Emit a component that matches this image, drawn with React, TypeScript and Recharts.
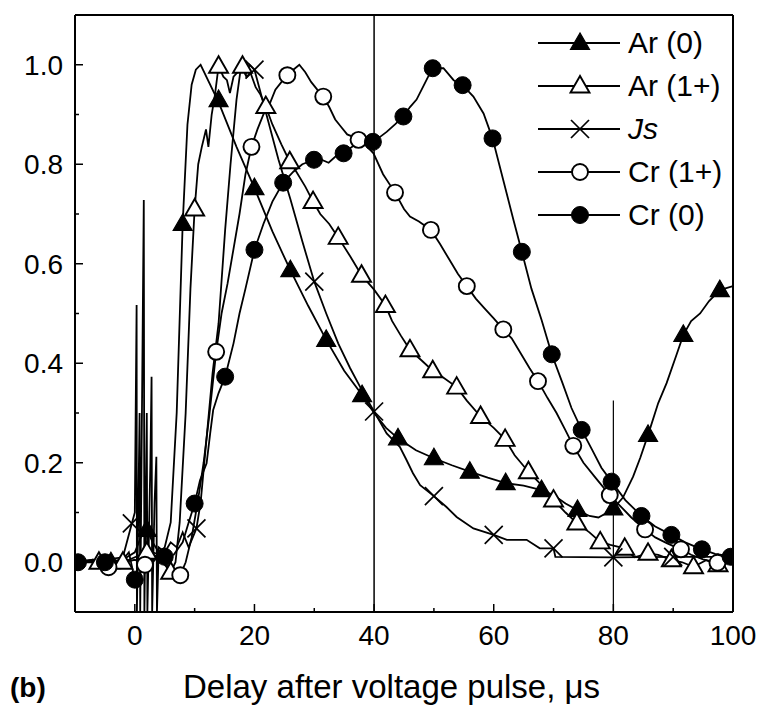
import React from 'react';
import { ComposedChart, Line, Scatter, XAxis, YAxis, ReferenceLine } from 'recharts';

type P = [number, number];

// ---- axis ticks ----
const xTicks = [0, 10, 20, 30, 40, 50, 60, 70, 80, 90, 100];
const xLabelTicks = [0, 20, 40, 60, 80, 100];
const yTicks = [0, 0.1, 0.2, 0.3, 0.4, 0.5, 0.6, 0.7, 0.8, 0.9, 1.0];
const yLabelTicks = [0, 0.2, 0.4, 0.6, 0.8, 1.0];

// ---- series names ----
const seriesNames = ['Ar (0)', 'Ar (1+)', 'Js', 'Cr (1+)', 'Cr (0)'];

// ---- Ar (0) ----
const arZeroTrace: P[] = [
  [-10, 0.0], [-7, 0.005], [-4, 0.0], [-2, 0.005], [0, 0.02], [1, 0.05], [2, 0.065], [3, 0.04], [4, 0.02],
  [5, 0.03], [6, 0.08], [7, 0.3], [8, 0.68], [8.8, 0.88], [9.5, 0.96], [10.2, 0.99], [11, 1.0], [14, 0.925],
  [17, 0.835], [20, 0.752], [23, 0.665], [26, 0.587], [29, 0.515], [32, 0.447], [35, 0.385], [38, 0.336],
  [40, 0.3], [42, 0.27], [44, 0.249], [47, 0.225], [50, 0.209], [53, 0.195], [56, 0.182], [59, 0.17],
  [62, 0.159], [65, 0.154], [68, 0.145], [70, 0.135], [72, 0.118], [74, 0.105], [76, 0.093], [77.5, 0.09],
  [79, 0.1], [80, 0.108], [81.6, 0.13], [83.3, 0.172], [84.5, 0.21], [85.8, 0.256], [87.5, 0.32],
  [88.9, 0.36], [90.5, 0.415], [91.7, 0.457], [93, 0.485], [94.5, 0.5], [96, 0.525], [97.8, 0.547], [100, 0.555],
];
const arZeroMarks: P[] = [
  [-4, 0.0], [2, 0.065], [8, 0.68], [14, 0.929], [20, 0.752], [26, 0.587], [32, 0.447], [38, 0.336],
  [44, 0.249], [50, 0.209], [56, 0.182], [62, 0.159], [68, 0.145], [74, 0.105], [80, 0.108], [85.8, 0.256],
  [91.7, 0.457], [97.8, 0.547],
];

// ---- Ar (1+) ----
const arOneTrace: P[] = [
  [-10, 0.005], [-6, 0.0], [-4, 0.005], [-2, 0.0], [0, 0.01], [2, 0.02], [4, 0.01], [6, -0.02], [6.8, 0.0],
  [7.5, 0.08], [8.5, 0.3], [9.3, 0.55], [10, 0.71], [10.6, 0.8], [11.2, 0.835], [11.9, 0.87], [12.3, 0.835],
  [12.85, 0.9], [13.4, 0.94], [14, 0.997], [14.8, 0.976], [15.4, 0.969], [15.9, 0.943], [16.5, 0.976],
  [17.2, 0.985], [18, 0.997], [18.7, 0.975], [19.3, 0.985], [20.2, 0.955], [21, 0.94], [21.9, 0.916],
  [23, 0.88], [24.5, 0.84], [25.9, 0.805], [27, 0.785], [28.5, 0.755], [29.8, 0.725], [31, 0.7], [32.5, 0.68],
  [34, 0.653], [36, 0.615], [37.9, 0.577], [40, 0.548], [41.9, 0.516], [43, 0.485], [44.5, 0.455], [46, 0.427],
  [48, 0.405], [49.8, 0.385], [51.5, 0.372], [53.8, 0.352], [55.5, 0.325], [57.8, 0.293], [60, 0.27],
  [61.9, 0.247], [63.5, 0.215], [65.8, 0.182], [68, 0.155], [70, 0.125], [72, 0.1], [73.9, 0.079], [76, 0.06],
  [77.8, 0.041], [79.5, 0.035], [81.9, 0.028], [83.5, 0.01], [85.8, 0.018], [87.5, 0.015], [89.7, 0.005],
  [91.5, 0.0], [93.4, -0.009], [95.5, 0.004], [97.5, -0.005], [100, 0.0],
];
const arOneMarks: P[] = [
  [-6, 0.0], [-2, 0.0], [2, 0.02], [6, -0.02], [10, 0.71], [14, 0.997], [18, 0.997], [21.9, 0.916],
  [25.9, 0.805], [29.8, 0.725], [34, 0.653], [37.9, 0.577], [41.9, 0.516], [46, 0.427], [49.8, 0.385],
  [53.8, 0.352], [57.8, 0.293], [61.9, 0.247], [65.8, 0.182], [70, 0.125], [73.9, 0.079], [77.8, 0.041],
  [81.9, 0.028], [85.8, 0.018], [89.7, 0.005], [93.4, -0.009], [97.5, -0.005],
];

// ---- Js ----
const jsTrace: P[] = [
  [-10, 0.0], [-5, 0.005], [-2, 0.01], [-0.5, 0.078], [0, 0.1], [0.3, 0.517], [0.35, -0.1], [0.8, 0.3],
  [0.9, -0.1], [1.3, 0.45], [1.5, 0.728], [1.6, -0.1], [2.0, 0.3], [2.1, -0.1], [2.6, 0.2], [2.8, 0.373],
  [2.9, -0.1], [3.3, 0.12], [3.6, 0.212], [3.7, -0.1], [4.0, 0.03], [5, 0.02], [6, 0.04], [7, 0.03], [8, 0.06],
  [9, 0.03], [10.3, 0.068], [11, 0.12], [12, 0.25], [13, 0.38], [14, 0.48], [15.1, 0.668], [16, 0.8],
  [17, 0.93], [17.8, 1.0], [18.5, 0.98], [19.2, 1.0], [20, 0.99], [22, 0.9], [24, 0.81], [26, 0.73],
  [28, 0.645], [30, 0.564], [32, 0.5], [34, 0.44], [36, 0.39], [38, 0.345], [40, 0.303], [42.1, 0.259],
  [44.3, 0.232], [45.4, 0.206], [46.5, 0.179], [47.7, 0.155], [50, 0.133], [52.1, 0.111], [53.8, 0.091],
  [56.6, 0.068], [60, 0.055], [62.2, 0.045], [65.5, 0.045], [67.7, 0.028], [70, 0.028], [70.3, 0.011],
  [80, 0.01], [90, 0.011], [100, 0.011],
];
const jsMarks: P[] = [
  [-0.5, 0.078], [10.3, 0.068], [20, 0.99], [30, 0.564], [40, 0.303], [50, 0.133], [60, 0.055],
  [70, 0.028], [80, 0.01], [90, 0.011],
];

// ---- Cr (1+) ----
const crOneTrace: P[] = [
  [-10, 0.0], [-7, 0.0], [-4.4, -0.01], [-2, 0.0], [0, 0.005], [1.7, -0.005], [3, 0.0], [4.5, 0.02],
  [5.5, -0.01], [6.5, -0.02], [7.6, -0.026], [8.5, 0.0], [9.5, 0.05], [10.5, 0.12], [11.5, 0.2], [12.5, 0.3],
  [13.6, 0.423], [14.5, 0.5], [15.5, 0.56], [16.5, 0.63], [17.5, 0.7], [18.5, 0.78], [19.5, 0.835],
  [20.5, 0.87], [21.5, 0.9], [22.5, 0.92], [23.5, 0.95], [24.5, 0.965], [25.5, 0.979], [26.5, 0.99],
  [27.5, 1.0], [28.5, 0.985], [29.5, 0.965], [30.5, 0.95], [31.5, 0.936], [32.5, 0.915], [33.5, 0.89],
  [34.5, 0.875], [35.5, 0.86], [36.5, 0.855], [37.4, 0.849], [38.5, 0.84], [39.9, 0.822], [41.5, 0.78],
  [43.5, 0.743], [45, 0.71], [46, 0.695], [47.5, 0.685], [49.5, 0.668], [51, 0.64], [52.5, 0.61], [54, 0.58],
  [55.5, 0.555], [57, 0.53], [58.5, 0.51], [60, 0.49], [61.6, 0.468], [63, 0.45], [64.5, 0.42], [66, 0.39],
  [67.4, 0.364], [69, 0.33], [70.5, 0.3], [72, 0.265], [73.3, 0.234], [75, 0.2], [77, 0.17], [79.4, 0.135],
  [81, 0.115], [83, 0.09], [85.3, 0.066], [87, 0.05], [89, 0.038], [91.3, 0.026], [93, 0.015], [95, 0.006],
  [97.4, -0.001], [100, 0.0],
];
const crOneMarks: P[] = [
  [-4.4, -0.01], [1.7, -0.005], [7.6, -0.026], [13.6, 0.423], [19.5, 0.835], [25.5, 0.979], [31.5, 0.936],
  [37.4, 0.849], [43.5, 0.743], [49.5, 0.668], [55.5, 0.555], [61.6, 0.468], [67.4, 0.364], [73.3, 0.234],
  [79.4, 0.135], [85.3, 0.066], [91.3, 0.026], [97.4, -0.001],
];

// ---- Cr (0) ----
const crZeroTrace: P[] = [
  [-10, 0.0], [-9.5, 0.0], [-7, 0.005], [-5, 0.0], [-2, 0.005], [-1, 0.02], [0, -0.035], [1, 0.02], [2, 0.03],
  [3, 0.02], [5, 0.011], [6.5, 0.015], [8, 0.04], [9, 0.08], [10, 0.118], [10.9, 0.165], [12, 0.199],
  [12.6, 0.259], [13.1, 0.306], [14, 0.34], [15.1, 0.373], [16.5, 0.44], [17.5, 0.5], [18.5, 0.55],
  [20, 0.628], [21.5, 0.68], [23, 0.725], [24.8, 0.763], [26.5, 0.785], [28, 0.8], [29.95, 0.809], [31, 0.81],
  [32.4, 0.803], [33.5, 0.815], [34.9, 0.822], [36, 0.832], [37.1, 0.842], [38.5, 0.842], [39.8, 0.845],
  [41, 0.855], [42.1, 0.865], [43.5, 0.88], [44.9, 0.896], [46, 0.915], [47.1, 0.93], [48.2, 0.956],
  [49, 0.975], [49.8, 0.993], [51.6, 0.993], [53.3, 0.969], [54.8, 0.959], [56.6, 0.936], [58.3, 0.902],
  [59.8, 0.852], [61.6, 0.768], [63.3, 0.688], [64.7, 0.624], [66.3, 0.55], [68, 0.487], [69.7, 0.418],
  [71.5, 0.36], [73, 0.31], [74.7, 0.266], [76.5, 0.225], [78, 0.19], [79.7, 0.162], [82, 0.125],
  [84.7, 0.093], [87, 0.072], [89.7, 0.055], [92, 0.04], [94.8, 0.026], [97, 0.017], [100, 0.011],
];
const crZeroMarks: P[] = [
  [-9.5, 0.0], [-5, 0.0], [0, -0.035], [5, 0.011], [10, 0.118], [15.1, 0.373], [20, 0.628], [24.8, 0.763],
  [29.95, 0.809], [34.9, 0.822], [39.8, 0.845], [44.9, 0.896], [49.8, 0.993], [54.8, 0.959], [59.8, 0.852],
  [64.7, 0.624], [69.7, 0.418], [74.7, 0.266], [79.7, 0.162], [84.7, 0.093], [89.7, 0.055], [94.8, 0.026],
  [99.6, 0.011],
];

const toObj = (arr: P[]) => arr.map(([x, y]) => ({ x, y }));

const FONT = '"Liberation Sans", Arial, Helvetica, sans-serif';
const INK = '#000';

// ---- marker shapes ----
const TriFilled = ({ cx, cy }: any) => (
  <polygon points={`${cx},${cy - 10} ${cx - 9.5},${cy + 6.5} ${cx + 9.5},${cy + 6.5}`} fill={INK} stroke={INK} strokeWidth={1.2} />
);
const TriOpen = ({ cx, cy }: any) => (
  <polygon points={`${cx},${cy - 10} ${cx - 9.5},${cy + 6.5} ${cx + 9.5},${cy + 6.5}`} fill="#fff" stroke={INK} strokeWidth={1.9} />
);
const Cross = ({ cx, cy }: any) => (
  <g stroke={INK} strokeWidth={1.7}>
    <line x1={cx - 9} y1={cy - 9} x2={cx + 9} y2={cy + 9} />
    <line x1={cx - 9} y1={cy + 9} x2={cx + 9} y2={cy - 9} />
  </g>
);
const CircOpen = ({ cx, cy }: any) => <circle cx={cx} cy={cy} r={8} fill="#fff" stroke={INK} strokeWidth={1.9} />;
const CircFilled = ({ cx, cy }: any) => <circle cx={cx} cy={cy} r={8.5} fill={INK} stroke={INK} strokeWidth={1} />;

const shapes = [TriFilled, TriOpen, Cross, CircOpen, CircFilled];

// ---- custom ticks (inward tick marks) ----
const XTick = (props: any) => {
  const { x, y, payload } = props;
  const v = payload.value;
  const major = xLabelTicks.includes(v);
  return (
    <g>
      <line x1={x} y1={y} x2={x} y2={y - (major ? 8 : 4)} stroke={INK} strokeWidth={1.5} />
      {major && (
        <text x={x} y={y + 33} textAnchor="middle" fontSize={28} fontFamily={FONT} fill={INK}>
          {v}
        </text>
      )}
    </g>
  );
};
const YTick = (props: any) => {
  const { x, y, payload } = props;
  const v = payload.value;
  const major = yLabelTicks.some((t) => Math.abs(t - v) < 1e-6);
  return (
    <g>
      <line x1={x} y1={y} x2={x + (major ? 8 : 4)} y2={y} stroke={INK} strokeWidth={1.5} />
      {major && (
        <text x={x - 12} y={y + 10} textAnchor="end" fontSize={28} fontFamily={FONT} fill={INK}>
          {v.toFixed(1)}
        </text>
      )}
    </g>
  );
};

const traces = [arZeroTrace, arOneTrace, jsTrace, crOneTrace, crZeroTrace];
const marks = [arZeroMarks, arOneMarks, jsMarks, crOneMarks, crZeroMarks];

export default function App() {
  return (
    <div style={{ position: 'absolute', left: 0, top: 0, width: 762, height: 710, background: '#fff' }}>
      <ComposedChart width={762} height={710} margin={{ top: 15, right: 29, left: 0, bottom: 0 }}>
        <XAxis
          type="number"
          dataKey="x"
          domain={[-10, 100]}
          allowDataOverflow
          ticks={xTicks}
          interval={0}
          tick={(p: any) => <XTick {...p} />}
          tickLine={false}
          tickSize={0}
          tickMargin={0}
          height={98}
          axisLine={{ stroke: INK, strokeWidth: 2 }}
        />
        <YAxis
          type="number"
          dataKey="y"
          domain={[-0.1, 1.1]}
          allowDataOverflow
          ticks={yTicks}
          interval={0}
          tick={(p: any) => <YTick {...p} />}
          tickLine={false}
          tickSize={0}
          tickMargin={0}
          width={75}
          axisLine={{ stroke: INK, strokeWidth: 2 }}
        />
        <ReferenceLine y={1.1} stroke={INK} strokeWidth={2} />
        <ReferenceLine x={100} stroke={INK} strokeWidth={2} />
        <ReferenceLine x={40} stroke={INK} strokeWidth={1.5} />
        <ReferenceLine segment={[{ x: 80, y: -0.1 }, { x: 80, y: 0.325 }]} stroke={INK} strokeWidth={1.2} />
        {traces.map((t, i) => (
          <Line
            key={'l' + i}
            data={toObj(t)}
            dataKey="y"
            type="linear"
            stroke={INK}
            strokeWidth={1.8}
            dot={false}
            activeDot={false}
            isAnimationActive={false}
            name={seriesNames[i]}
          />
        ))}
        {marks.map((m, i) => {
          const S = shapes[i];
          return (
            <Scatter
              key={'s' + i}
              data={toObj(m)}
              dataKey="y"
              shape={(p: any) => <S cx={p.cx} cy={p.cy} />}
              isAnimationActive={false}
              name={seriesNames[i] + ' markers'}
            />
          );
        })}
      </ComposedChart>
      <svg width={762} height={710} style={{ position: 'absolute', left: 0, top: 0, pointerEvents: 'none' }}>
        {seriesNames.map((name, i) => {
          const cy = 43 + i * 43;
          const S = shapes[i];
          return (
            <g key={name}>
              <line x1={538} y1={cy} x2={620} y2={cy} stroke={INK} strokeWidth={1.8} />
              <S cx={580} cy={cy} />
              <text
                x={628}
                y={cy + 10}
                fontSize={30}
                fontFamily={FONT}
                fontStyle={name === 'Js' ? 'italic' : 'normal'}
                fill={INK}
              >
                {name}
              </text>
            </g>
          );
        })}
        <text x={10} y={697} fontSize={28} fontWeight="bold" fontFamily={FONT} fill={INK}>
          (b)
        </text>
        <text x={183} y={698} fontSize={33} fontFamily={FONT} fill={INK}>
          Delay after voltage pulse, μs
        </text>
      </svg>
    </div>
  );
}
